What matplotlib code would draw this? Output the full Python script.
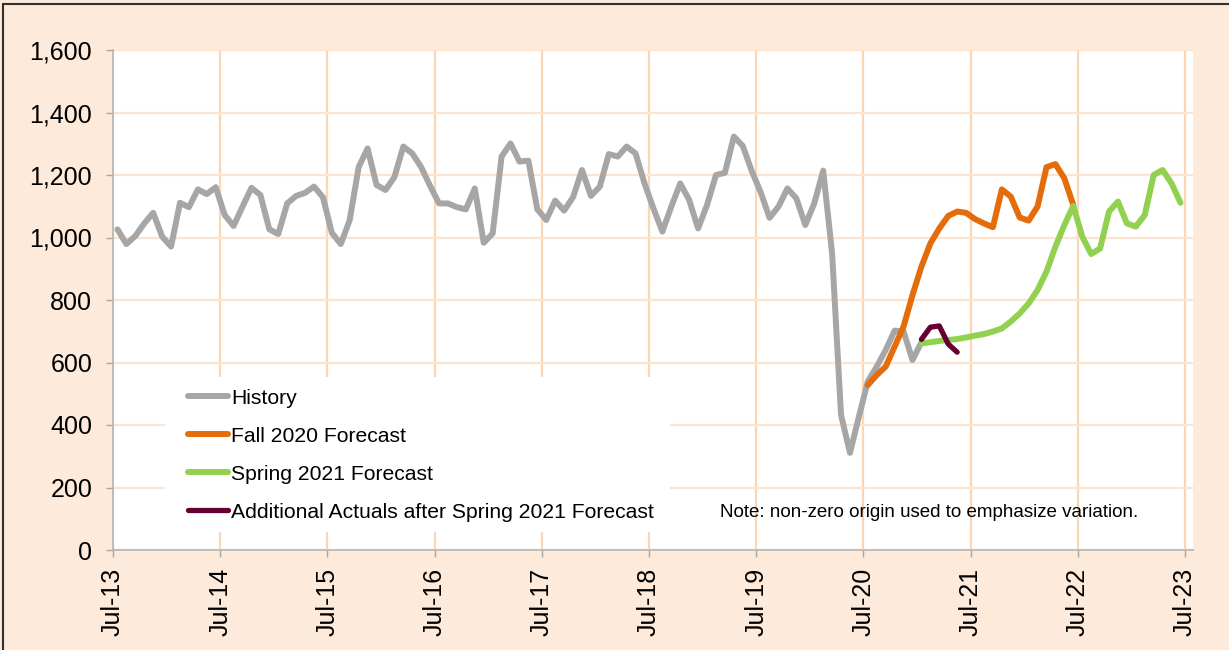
import matplotlib
matplotlib.use("Agg")
import matplotlib.pyplot as plt
from matplotlib.patches import Rectangle
import numpy as np

plt.rcParams['font.family'] = ['Liberation Sans', 'DejaVu Sans']

# ---- data (monthly, index 0 = Jul-2013) ----
tick_labels = ["Jul-13", "Jul-14", "Jul-15", "Jul-16", "Jul-17", "Jul-18",
               "Jul-19", "Jul-20", "Jul-21", "Jul-22", "Jul-23"]

history_start = 0
history = [1026, 979, 1005, 1045, 1079, 1003, 971, 1111, 1097, 1154, 1139, 1161,
           1072, 1037, 1099, 1159, 1136, 1026, 1011, 1109, 1133, 1143, 1163, 1129,
           1015, 979, 1056, 1225, 1285, 1168, 1152, 1193, 1291, 1269, 1225, 1165,
           1109, 1109, 1097, 1090, 1157, 983, 1013, 1259, 1301, 1243, 1246, 1090,
           1056, 1118, 1086, 1129, 1216, 1133, 1163, 1267, 1259, 1291, 1269, 1173,
           1093, 1019, 1099, 1173, 1120, 1029, 1104, 1200, 1207, 1323, 1293, 1213,
           1145, 1063, 1099, 1157, 1125, 1040, 1109, 1214, 949, 432, 311, 427,
           540, 587, 640, 702, 699, 608, 665]

fall_start = 84
fall2020 = [528, 560, 587, 651, 715, 816, 907, 981, 1029, 1069, 1083, 1079,
            1059, 1045, 1033, 1154, 1131, 1064, 1054, 1099, 1225, 1235, 1189, 1104]

spring_start = 90
spring2021 = [661, 665, 669, 672, 675, 680, 686, 691, 699, 709, 731, 757,
              789, 832, 891, 971, 1040, 1101, 1003, 947, 965, 1083, 1115, 1045,
              1035, 1072, 1200, 1216, 1173, 1111]

actuals_start = 90
actuals = [674, 713, 717, 659, 633]

series_names = ["History", "Fall 2020 Forecast", "Spring 2021 Forecast",
                "Additional Actuals after Spring 2021 Forecast"]
series_colors = ["#A6A6A6", "#E46C0A", "#92D050", "#660033"]

W, H = 1229, 650
fig = plt.figure(figsize=(W / 100, H / 100), dpi=100)
fig.patch.set_facecolor("#FDEADA")

ax = fig.add_axes([113 / W, (H - 550) / H, (1193 - 113) / W, 500 / H])
ax.set_facecolor("white")


def xs(start, vals):
    return np.arange(start, start + len(vals)) + 0.5


lw = 4.3
kw = dict(solid_joinstyle='round', solid_capstyle='round')
ax.plot(xs(history_start, history), history, color=series_colors[0], lw=lw,
        label=series_names[0], zorder=3, **kw)
ax.plot(xs(fall_start, fall2020), fall2020, color=series_colors[1], lw=lw,
        label=series_names[1], zorder=4, **kw)
ax.plot(xs(spring_start, spring2021), spring2021, color=series_colors[2], lw=lw,
        label=series_names[2], zorder=4, **kw)
ax.plot(xs(actuals_start, actuals), actuals, color=series_colors[3], lw=3.8,
        label=series_names[3], zorder=5, **kw)

ax.set_xlim(0, 120.9)
ax.set_ylim(0, 1600)

ax.set_xticks(np.arange(0, 121, 12))
ax.set_xticklabels(tick_labels, rotation=90, fontsize=18)
ax.set_yticks(np.arange(0, 1601, 200))
ax.set_yticklabels([f"{v:,}" for v in range(0, 1601, 200)], fontsize=18)

ax.tick_params(axis='both', colors='#A6A6A6', labelcolor='black', length=5, width=1)
ax.tick_params(axis='y', pad=10)
ax.tick_params(axis='x', pad=8)

ax.grid(axis='x', color='#FCD5B5', lw=1.6, zorder=0)
ax.grid(axis='y', color='#FDE4D0', lw=1.6, zorder=0)
ax.set_axisbelow(True)

for s in ['top', 'right']:
    ax.spines[s].set_visible(False)
for s in ['left', 'bottom']:
    ax.spines[s].set_color('#B5B5B5')
    ax.spines[s].set_linewidth(1.2)

# white legend box
fig.patches.append(Rectangle((165 / W, (H - 532) / H), (670 - 165) / W, (532 - 377) / H,
                             transform=fig.transFigure, facecolor='white',
                             edgecolor='none', zorder=1.5))
ax.set_zorder(1)
ax.patch.set_zorder(0)

leg = fig.legend(*ax.get_legend_handles_labels(), loc='upper left',
                 bbox_to_anchor=(188 / W, (H - 388.5) / H),
                 fontsize=15.25, frameon=False,
                 handlelength=1.89, handletextpad=0.15, labelspacing=0.9,
                 borderpad=0, borderaxespad=0)
leg.set_zorder(6)

fig.text(720 / W, (H - 512.5) / H, "Note: non-zero origin used to emphasize variation.",
         fontsize=13.5, ha='left', va='center', color='black', zorder=6)

# outer border
fig.patches.append(Rectangle((3 / W, -0.5), 2.0, 0.5 + 1 - 3.5 / H,
                             transform=fig.transFigure, fill=False,
                             edgecolor='#303030', lw=1.5))

fig.savefig("out.png", dpi=100, facecolor=fig.get_facecolor())
